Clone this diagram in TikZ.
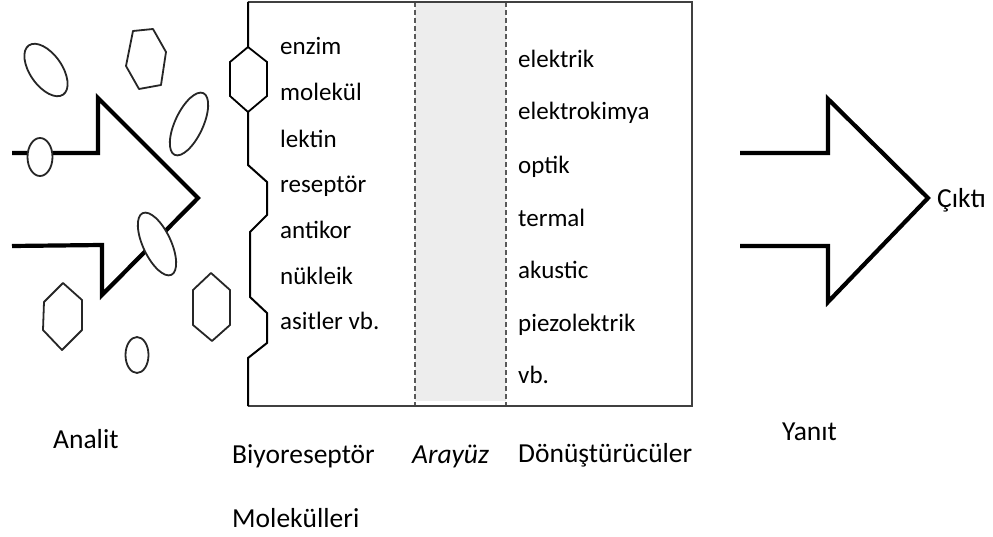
\documentclass[tikz,border=0pt]{standalone}
\usepackage{fontspec}
\setmainfont{Carlito}
\usetikzlibrary{shapes.geometric}
\begin{document}
\begin{tikzpicture}[x=1pt,y=-1pt,
  bigarrow/.style={line width=4.2pt,line join=miter,line cap=butt,black},
  mol/.style={draw=black!85,line width=1.8pt,fill=white,line join=round},
  oval/.style={ellipse,draw=black!85,line width=1.8pt,fill=white,inner sep=0pt,outer sep=0pt},
  boxline/.style={line width=2pt,black!75},
  sep/.style={dashed,dash pattern=on 5pt off 3pt,line width=1.1pt,black!65},
  txt/.style={font=\fontsize{25}{30}\selectfont,anchor=base west,inner sep=0pt},
  lbl/.style={font=\fontsize{27.5}{33}\selectfont,anchor=base west,inner sep=0pt}]
\useasboundingbox (0,0) rectangle (993,537);
\fill[white] (0,0) rectangle (993,537);

% interface band
\fill[black!7] (415,3) rectangle (506,401);
\draw[sep] (415,2) -- (415,406);
\draw[sep] (506,2) -- (506,406);

% box
\coordinate (tl) at (248,2);
\coordinate (tr) at (692,2);
\coordinate (br) at (692,406);
\coordinate (bl) at (248,406);
\draw[boxline] (tl) -- (tr) -- (br) -- (bl);

% bioreceptor edge
\draw[line width=2pt,black,line join=miter] (tl) -- (248,47)
  (248,112) -- (248,165) -- (267,182) -- (267,215) -- (250,232) -- (250,297)
  -- (267,313) -- (267,343) -- (248,358) -- (bl);
\draw[mol,draw=black,line join=miter] (248,47) -- (267,62) -- (267,96) -- (248,112) -- (230,96) -- (230,62) -- cycle;

% input arrow (Analit)
\draw[bigarrow] (12,153) -- (98,153) -- (98,98) -- (198,198) -- (102,295) -- (102,245) -- (12,246);

% output arrow (Yanit)
\draw[bigarrow] (740,153) -- (828,153) -- (828,99) -- (928,198) -- (828,302) -- (828,246) -- (740,246);

% analyte molecules
\node[oval,minimum width=60pt,minimum height=32pt,rotate=-55] (m1) at (46,70) {};
\draw[mol] (133,31) -- (153,29) -- (166,52) -- (161,85) -- (139,89) -- (126,66) -- cycle;
\node[oval,minimum width=68pt,minimum height=28pt,rotate=65] (m3) at (189,124) {};
\node[oval,minimum width=25pt,minimum height=38pt] (m4) at (40,157) {};
\node[oval,minimum width=68pt,minimum height=28pt,rotate=-65] (m5) at (157,244) {};
\draw[mol] (63,283) -- (82,300) -- (82,330) -- (62,350) -- (43,330) -- (44,302) -- cycle;
\node[oval,minimum width=23pt,minimum height=36pt] (m7) at (137,355) {};
\draw[mol] (211,273) -- (230,290) -- (230,325) -- (212,341) -- (193,325) -- (193,290) -- cycle;

% bioreceptor list
\node[txt] (r1) at (280,55) {enzim};
\node[txt] (r2) at (280,101) {molekül};
\node[txt] (r3) at (280,148) {lektin};
\node[txt] (r4) at (280,193) {reseptör};
\node[txt] (r5) at (280,239) {antikor};
\node[txt] (r6) at (280,285) {nükleik};
\node[txt] (r7) at (280,330) {asitler vb.};

% transducer list
\node[txt] (t1) at (518,68) {elektrik};
\node[txt] (t2) at (518,120) {elektrokimya};
\node[txt] (t3) at (518,174) {optik};
\node[txt] (t4) at (518,227) {termal};
\node[txt] (t5) at (518,279) {akustic};
\node[txt] (t6) at (518,331) {piezolektrik};
\node[txt] (t7) at (518,383) {vb.};

% labels
\node[lbl] (analit) at (53,448) {Analit};
\node[lbl] (bio) at (232,463) {Biyoreseptör};
\node[lbl] (mol) at (232,527) {Molekülleri};
\node[lbl,font=\fontsize{27.5}{33}\selectfont\itshape] (aray) at (412,463) {Arayüz};
\node[lbl] (donus) at (518,462) {Dönüştürücüler};
\node[lbl] (yanit) at (782,440) {Yanıt};
\node[lbl] (cikti) at (937,208) {Çıktı};
\end{tikzpicture}
\end{document}
